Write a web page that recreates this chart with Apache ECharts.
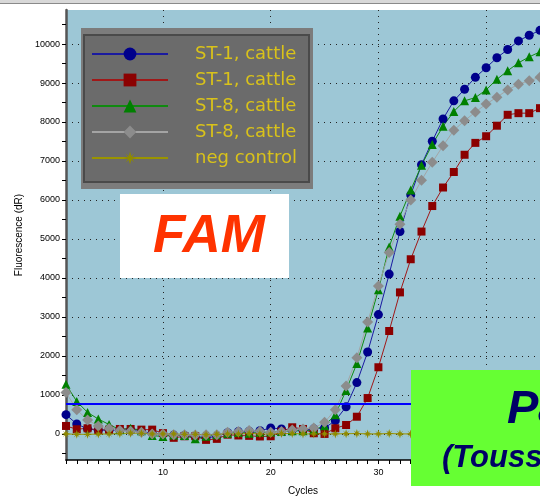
<!DOCTYPE html>
<html>
<head>
<meta charset="utf-8">
<script src="https://cdn.jsdelivr.net/npm/echarts@6/dist/echarts.min.js"></script>
<style>
  html, body { margin: 0; padding: 0; background: #fff; }
  #chart { width: 540px; height: 501px; }
</style>
</head>
<body>
<div id="chart"></div>
<script>
// cycles (x)
const cycles = [1,2,3,4,5,6,7,8,9,10,11,12,13,14,15,16,17,18,19,20,21,22,23,24,25,26,27,28,29,30,31,32,33,34,35,36,37,38,39,40,41,42,43,44,45]

// fluorescence (dR) per cycle
const st1a = [494,255,130,95,100,100,90,60,20,0,-30,-40,-60,-100,-60,30,60,70,80,153,127,100,100,130,153,340,695,1316,2100,3060,4100,5192,6130,6905,7508,8078,8543,8841,9146,9393,9648,9859,10080,10225,10352]
const st1b = [204,120,145,100,110,127,127,110,110,20,-100,-60,-60,-153,-127,-20,-40,-50,-65,-60,60,170,127,17,0,145,229,441,920,1710,2640,3630,4480,5190,5845,6320,6718,7160,7465,7635,7905,8185,8227,8227,8355]
const st8a = [1272,832,552,382,240,110,144,80,-42,-68,-30,-40,-127,-60,-20,20,40,20,40,50,60,80,80,100,212,492,1115,1808,2714,3700,4795,5583,6253,6889,7424,7889,8271,8543,8627,8824,9095,9315,9518,9671,9799]
const st8b = [1061,620,356,204,140,85,70,42,0,0,-20,-20,-30,-20,-20,42,60,85,70,42,60,100,127,153,297,620,1231,1952,2868,3795,4655,5380,6000,6507,6965,7390,7788,8035,8256,8459,8637,8824,8967,9061,9146]
const negCtrl = [0,-10,-10,-5,0,10,20,15,0,0,0,-10,-10,-20,-10,0,0,10,0,-5,10,10,0,0,0,0,5,10,0,0,10,0,0,0,10,0,5,0,0,10,0,0,5,0,0]

const threshold = 780

const legendLabels = ['ST-1, cattle', 'ST-1, cattle', 'ST-8, cattle', 'ST-8, cattle', 'neg control']

// axis ticks / labels
const yLabelValues = [0,1000,2000,3000,4000,5000,6000,7000,8000,9000,10000]
const yTickValues = [-500,0,500,1000,1500,2000,2500,3000,3500,4000,4500,5000,5500,6000,6500,7000,7500,8000,8500,9000,9500,10000,10500]
const xLabelValues = [10,20,30,40]

const pairs = arr => cycles.map((c, i) => [c, arr[i]])

const starPath = 'path://M0,-5L1,-1.6L3.5,-3.5L1.6,-1L5,0L1.6,1L3.5,3.5L1,1.6L0,5L-1,1.6L-3.5,3.5L-1.6,1L-5,0L-1.6,-1L-3.5,-3.5L-1,-1.6Z'

const seriesDefs = [
  { id: 's0', data: st1a, color: '#00008b', line: '#1a1aa0', symbol: 'circle', size: 9 },
  { id: 's1', data: st1b, color: '#8b0000', line: '#a01818', symbol: 'rect', size: 8 },
  { id: 's2', data: st8a, color: '#008000', line: '#108a10', symbol: 'triangle', size: 9 },
  { id: 's3', data: st8b, color: '#8c8c8c', line: '#a4a4a4', symbol: 'diamond', size: 11 },
  { id: 's4', data: negCtrl, color: '#8f8a00', line: '#9a9400', symbol: starPath, size: 9 }
]

const chart = echarts.init(document.getElementById('chart'))

const series = seriesDefs.map((d, i) => {
  const s = {
    name: d.id,
    type: 'line',
    xAxisIndex: 0,
    yAxisIndex: 0,
    data: pairs(d.data),
    symbol: d.symbol,
    symbolSize: d.size,
    showAllSymbol: true,
    itemStyle: { color: d.color },
    lineStyle: { color: d.line, width: 1 }
  }
  if (i === 0) {
    s.markLine = {
      silent: true,
      symbol: 'none',
      label: { show: false },
      lineStyle: { color: '#0000ff', width: 2, type: 'solid' },
      data: [{ yAxis: threshold }]
    }
  }
  return s
})

const axisFont = { fontFamily: 'Liberation Sans', fontSize: 9, color: '#000' }

chart.setOption({
  animation: false,
  backgroundColor: '#fff',
  grid: {
    left: 66, top: 10, width: 475.2, height: 453,
    show: true, backgroundColor: '#9dc7d6', borderWidth: 0
  },
  legend: {
    orient: 'vertical',
    left: 91, top: 45, padding: 0,
    itemWidth: 76, itemHeight: 16, itemGap: 8,
    selectedMode: false,
    data: seriesDefs.map(d => d.id),
    formatter: name => legendLabels[seriesDefs.findIndex(d => d.id === name)],
    lineStyle: { width: 2 },
    textStyle: {
      color: '#d9c21a', fontSize: 18, fontFamily: 'DejaVu Sans',
      lineHeight: 16, padding: [0, 0, 0, 22]
    },
    z: 10
  },
  xAxis: [
    {
      type: 'value', min: 1, max: 45,
      name: 'Cycles', nameLocation: 'middle', nameGap: 26,
      nameTextStyle: { fontFamily: 'Liberation Sans', fontSize: 10, color: '#000' },
      axisLine: { onZero: false, lineStyle: { color: '#000', width: 1.5 } },
      axisTick: { customValues: cycles, length: 4, lineStyle: { color: '#000' } },
      axisLabel: Object.assign({ customValues: xLabelValues, margin: 8, formatter: v => String(v) }, axisFont),
      splitLine: { show: false }
    },
    {
      type: 'value', min: 1, max: 45, position: 'top',
      axisLine: { show: false },
      axisTick: { show: false, customValues: xLabelValues },
      axisLabel: { show: false, customValues: xLabelValues },
      splitLine: { show: true, lineStyle: { color: '#222', width: 1, type: [1, 5] } }
    }
  ],
  yAxis: [
    {
      type: 'value', min: -669, max: 10873,
      name: 'Fluorescence (dR)', nameLocation: 'middle', nameGap: 40,
      nameTextStyle: { fontFamily: 'Liberation Sans', fontSize: 10, color: '#000' },
      axisLine: { onZero: false, lineStyle: { color: '#555', width: 2.5 } },
      axisTick: { customValues: yTickValues, length: 4, lineStyle: { color: '#000' } },
      axisLabel: Object.assign({ customValues: yLabelValues, margin: 6, formatter: v => String(v) }, axisFont),
      splitLine: { show: false }
    },
    {
      type: 'value', min: -669, max: 10873, position: 'right',
      axisLine: { show: false },
      axisTick: { show: false, customValues: yLabelValues },
      axisLabel: { show: false, customValues: yLabelValues },
      splitLine: { show: true, lineStyle: { color: '#222', width: 1, type: [1, 5] } }
    }
  ],
  graphic: [
    // window chrome strip at the top
    { type: 'rect', shape: { x: 0, y: 0, width: 540, height: 3 }, style: { fill: '#d8d8d8' }, z: 1 },
    { type: 'rect', shape: { x: 0, y: 3, width: 540, height: 1 }, style: { fill: '#8a8a8a' }, z: 1 },
    // legend panel
    { type: 'rect', shape: { x: 81, y: 28, width: 232, height: 161 }, style: { fill: '#7c7c7c' }, z: 5 },
    { type: 'rect', shape: { x: 84, y: 35, width: 225, height: 147 }, style: { fill: '#6b6b6b', stroke: '#4a4a4a', lineWidth: 2 }, z: 5 },
    // FAM label
    { type: 'rect', shape: { x: 120, y: 194, width: 169, height: 84 }, style: { fill: '#ffffff' }, z: 5 },
    { type: 'text', z: 6, style: { x: 209, y: 237, text: 'FAM', fill: '#ff3300',
      font: 'italic bold 53px "Liberation Sans"', textAlign: 'center', textVerticalAlign: 'middle' } },
    // green box, bottom right
    { type: 'rect', shape: { x: 411, y: 370, width: 140, height: 116 }, style: { fill: '#66ff33' }, z: 20 },
    { type: 'text', z: 21, style: { x: 507, y: 410, text: 'Pa', fill: '#000066',
      font: 'italic bold 47px "Liberation Sans"', textAlign: 'left', textVerticalAlign: 'middle' } },
    { type: 'text', z: 21, style: { x: 442, y: 458, text: '(Touss', fill: '#000066',
      font: 'italic bold 31px "Liberation Sans"', textAlign: 'left', textVerticalAlign: 'middle' } }
  ],
  series: series
})
</script>
</body>
</html>
